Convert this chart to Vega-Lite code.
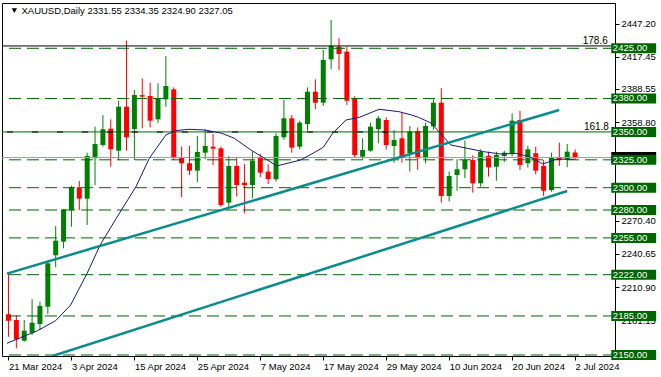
{
  "$schema": "https://vega.github.io/schema/vega-lite/v6.json",
  "width": 613,
  "height": 353,
  "autosize": {"type": "none"},
  "padding": {"left": 2, "top": 3, "right": 46, "bottom": 21},
  "background": "white",
  "config": {"view": {"stroke": "black", "strokeWidth": 1}, "font": "Liberation Sans"},
  "datasets": {
    "candles": [
      {"idx": 0, "o": 2186.6, "h": 2223.3, "l": 2166.4, "c": 2180.6},
      {"idx": 1, "o": 2181.4, "h": 2185.9, "l": 2156.0, "c": 2164.0},
      {"idx": 2, "o": 2162.8, "h": 2181.4, "l": 2162.0, "c": 2171.8},
      {"idx": 3, "o": 2170.0, "h": 2200.0, "l": 2168.0, "c": 2179.0},
      {"idx": 4, "o": 2177.8, "h": 2197.8, "l": 2172.4, "c": 2194.0},
      {"idx": 5, "o": 2193.3, "h": 2234.6, "l": 2186.8, "c": 2232.2},
      {"idx": 6, "o": 2239.4, "h": 2265.7, "l": 2228.6, "c": 2252.5},
      {"idx": 7, "o": 2251.6, "h": 2281.0, "l": 2245.7, "c": 2280.6},
      {"idx": 8, "o": 2280.0, "h": 2301.8, "l": 2265.0, "c": 2300.4},
      {"idx": 9, "o": 2300.4, "h": 2306.0, "l": 2280.0, "c": 2290.2},
      {"idx": 10, "o": 2290.2, "h": 2331.4, "l": 2266.6, "c": 2328.4},
      {"idx": 11, "o": 2326.4, "h": 2354.7, "l": 2302.4, "c": 2339.2},
      {"idx": 12, "o": 2338.3, "h": 2365.0, "l": 2336.8, "c": 2352.4},
      {"idx": 13, "o": 2352.9, "h": 2361.3, "l": 2318.8, "c": 2334.4},
      {"idx": 14, "o": 2333.2, "h": 2378.0, "l": 2324.8, "c": 2372.6},
      {"idx": 15, "o": 2372.6, "h": 2431.8, "l": 2333.2, "c": 2345.2},
      {"idx": 16, "o": 2352.6, "h": 2387.6, "l": 2324.8, "c": 2383.1},
      {"idx": 17, "o": 2383.0, "h": 2398.0, "l": 2353.3, "c": 2381.6},
      {"idx": 18, "o": 2382.2, "h": 2394.2, "l": 2354.0, "c": 2360.1},
      {"idx": 19, "o": 2361.3, "h": 2393.6, "l": 2358.0, "c": 2380.2},
      {"idx": 20, "o": 2379.2, "h": 2418.1, "l": 2372.6, "c": 2391.2},
      {"idx": 21, "o": 2388.2, "h": 2390.0, "l": 2324.8, "c": 2327.3},
      {"idx": 22, "o": 2327.3, "h": 2336.8, "l": 2291.4, "c": 2321.9},
      {"idx": 23, "o": 2321.9, "h": 2337.4, "l": 2311.4, "c": 2315.3},
      {"idx": 24, "o": 2315.3, "h": 2346.4, "l": 2305.0, "c": 2332.0},
      {"idx": 25, "o": 2331.4, "h": 2352.4, "l": 2325.5, "c": 2337.4},
      {"idx": 26, "o": 2336.8, "h": 2348.2, "l": 2320.4, "c": 2335.0},
      {"idx": 27, "o": 2335.3, "h": 2336.8, "l": 2283.0, "c": 2284.5},
      {"idx": 28, "o": 2286.6, "h": 2328.4, "l": 2281.5, "c": 2319.5},
      {"idx": 29, "o": 2319.5, "h": 2327.3, "l": 2292.0, "c": 2302.4},
      {"idx": 30, "o": 2304.5, "h": 2321.3, "l": 2277.0, "c": 2302.2},
      {"idx": 31, "o": 2302.4, "h": 2332.3, "l": 2290.5, "c": 2324.2},
      {"idx": 32, "o": 2327.3, "h": 2330.2, "l": 2309.3, "c": 2313.5},
      {"idx": 33, "o": 2314.4, "h": 2321.0, "l": 2303.3, "c": 2307.8},
      {"idx": 34, "o": 2307.6, "h": 2348.8, "l": 2305.4, "c": 2346.4},
      {"idx": 35, "o": 2345.2, "h": 2378.6, "l": 2343.0, "c": 2362.2},
      {"idx": 36, "o": 2362.2, "h": 2365.2, "l": 2331.4, "c": 2335.9},
      {"idx": 37, "o": 2336.8, "h": 2360.1, "l": 2334.4, "c": 2358.3},
      {"idx": 38, "o": 2357.1, "h": 2390.0, "l": 2351.1, "c": 2386.1},
      {"idx": 39, "o": 2386.1, "h": 2397.2, "l": 2370.3, "c": 2376.2},
      {"idx": 40, "o": 2376.2, "h": 2423.5, "l": 2373.3, "c": 2414.5},
      {"idx": 41, "o": 2415.1, "h": 2450.4, "l": 2406.2, "c": 2427.0},
      {"idx": 42, "o": 2426.4, "h": 2434.0, "l": 2405.5, "c": 2419.9},
      {"idx": 43, "o": 2422.0, "h": 2426.4, "l": 2374.2, "c": 2378.0},
      {"idx": 44, "o": 2380.2, "h": 2382.0, "l": 2327.0, "c": 2329.3},
      {"idx": 45, "o": 2327.8, "h": 2344.3, "l": 2325.5, "c": 2333.8},
      {"idx": 46, "o": 2333.2, "h": 2358.3, "l": 2332.3, "c": 2354.7},
      {"idx": 47, "o": 2352.4, "h": 2364.3, "l": 2339.8, "c": 2362.2},
      {"idx": 48, "o": 2360.7, "h": 2363.1, "l": 2334.4, "c": 2338.3},
      {"idx": 49, "o": 2337.4, "h": 2351.7, "l": 2322.4, "c": 2342.8},
      {"idx": 50, "o": 2344.3, "h": 2367.2, "l": 2322.4, "c": 2327.3},
      {"idx": 51, "o": 2330.9, "h": 2355.3, "l": 2314.4, "c": 2350.3},
      {"idx": 52, "o": 2350.8, "h": 2354.0, "l": 2316.0, "c": 2326.4},
      {"idx": 53, "o": 2326.4, "h": 2358.3, "l": 2322.0, "c": 2355.3},
      {"idx": 54, "o": 2355.0, "h": 2379.2, "l": 2352.0, "c": 2376.2},
      {"idx": 55, "o": 2376.2, "h": 2389.1, "l": 2286.6, "c": 2292.6},
      {"idx": 56, "o": 2292.6, "h": 2314.4, "l": 2287.5, "c": 2310.5},
      {"idx": 57, "o": 2311.4, "h": 2325.5, "l": 2297.3, "c": 2316.5},
      {"idx": 58, "o": 2316.5, "h": 2342.2, "l": 2308.5, "c": 2324.8},
      {"idx": 59, "o": 2324.8, "h": 2329.0, "l": 2295.5, "c": 2303.9},
      {"idx": 60, "o": 2303.9, "h": 2334.4, "l": 2300.9, "c": 2332.3},
      {"idx": 61, "o": 2328.4, "h": 2332.3, "l": 2310.0, "c": 2318.3},
      {"idx": 62, "o": 2318.8, "h": 2332.3, "l": 2306.3, "c": 2329.3},
      {"idx": 63, "o": 2328.4, "h": 2333.0, "l": 2323.0, "c": 2331.4},
      {"idx": 64, "o": 2330.9, "h": 2366.7, "l": 2328.0, "c": 2360.1},
      {"idx": 65, "o": 2360.7, "h": 2369.0, "l": 2315.9, "c": 2320.4},
      {"idx": 66, "o": 2321.9, "h": 2337.5, "l": 2318.0, "c": 2334.4},
      {"idx": 67, "o": 2330.9, "h": 2336.8, "l": 2312.0, "c": 2315.3},
      {"idx": 68, "o": 2319.5, "h": 2324.8, "l": 2292.6, "c": 2297.3},
      {"idx": 69, "o": 2297.9, "h": 2331.4, "l": 2296.4, "c": 2327.3},
      {"idx": 70, "o": 2327.3, "h": 2340.4, "l": 2319.5, "c": 2325.5},
      {"idx": 71, "o": 2325.5, "h": 2339.2, "l": 2318.3, "c": 2332.3},
      {"idx": 72, "o": 2331.55, "h": 2334.35, "l": 2324.9, "c": 2327.05}
    ],
    "ma": [
      {"idx": -0.19, "v": 2160.5}, {"idx": 3.7, "v": 2171.8}, {"idx": 6.0, "v": 2180.8}, {"idx": 7.9, "v": 2194.8},
      {"idx": 10.0, "v": 2223.3}, {"idx": 11.65, "v": 2248.6}, {"idx": 13.7, "v": 2272.6}, {"idx": 16.2, "v": 2300.9},
      {"idx": 17.9, "v": 2326.4}, {"idx": 20.0, "v": 2347.3}, {"idx": 21.2, "v": 2351.1}, {"idx": 22.9, "v": 2352.4},
      {"idx": 25.0, "v": 2351.7}, {"idx": 27.1, "v": 2348.8}, {"idx": 28.7, "v": 2344.3}, {"idx": 30.8, "v": 2333.8},
      {"idx": 32.9, "v": 2324.8}, {"idx": 34.1, "v": 2319.5}, {"idx": 35.4, "v": 2321.8}, {"idx": 37.1, "v": 2324.8},
      {"idx": 38.7, "v": 2330.9}, {"idx": 40.0, "v": 2336.2}, {"idx": 41.2, "v": 2348.8}, {"idx": 42.9, "v": 2360.7},
      {"idx": 44.6, "v": 2363.1}, {"idx": 47.1, "v": 2370.3}, {"idx": 49.6, "v": 2368.2}, {"idx": 51.2, "v": 2365.2},
      {"idx": 52.1, "v": 2363.1}, {"idx": 53.7, "v": 2358.0}, {"idx": 56.2, "v": 2338.3}, {"idx": 58.3, "v": 2335.3},
      {"idx": 60.4, "v": 2332.3}, {"idx": 62.5, "v": 2330.2}, {"idx": 64.6, "v": 2330.8}, {"idx": 66.2, "v": 2327.8},
      {"idx": 67.9, "v": 2321.3}, {"idx": 69.6, "v": 2325.5}, {"idx": 71.9, "v": 2325.5}
    ],
    "levels": [
      {"p": 2425, "dash": 1}, {"p": 2380, "dash": 1}, {"p": 2350, "dash": 0}, {"p": 2325, "dash": 1},
      {"p": 2300, "dash": 1}, {"p": 2280, "dash": 1}, {"p": 2255, "dash": 1}, {"p": 2222, "dash": 1},
      {"p": 2185, "dash": 1}, {"p": 2150, "dash": 1}
    ],
    "trend": [
      {"line": "upper", "idx": -0.19, "p": 2223.0}, {"line": "upper", "idx": 69.98, "p": 2369.7},
      {"line": "lower", "idx": 5.6, "p": 2149.1}, {"line": "lower", "idx": 71.0, "p": 2297.0}
    ],
    "fib": [
      {"p": 2427.1, "t": "178.6", "lx": 76.15},
      {"p": 2349.9, "t": "161.8", "lx": 76.3}
    ]
  },
  "layer": [
    {
      "data": {"name": "candles"},
      "mark": {"type": "rule", "strokeWidth": 1},
      "encoding": {
        "x": {"field": "idx", "type": "quantitative",
          "scale": {"domain": [-0.1875, 76.4375], "nice": false, "zero": false},
          "axis": {"values": [0, 8, 16, 24, 32, 40, 48, 56, 64, 72],
            "labelExpr": "['21 Mar 2024','3 Apr 2024','15 Apr 2024','25 Apr 2024','7 May 2024','17 May 2024','29 May 2024','10 Jun 2024','20 Jun 2024','2 Jul 2024'][round(datum.value/8)]",
            "labelAlign": "left", "labelDx": -1, "labelFont": "Liberation Sans", "labelFontSize": 9.5, "labelColor": "black",
            "tickColor": "black", "tickSize": 4, "labelPadding": 1, "domain": false, "grid": false, "title": null,
            "labelOverlap": false, "labelFlush": false}},
        "y": {"field": "l", "type": "quantitative",
          "scale": {"domain": [2149.1, 2465.6], "nice": false, "zero": false},
          "axis": {"orient": "right", "values": [2447.2, 2417.45, 2388.55, 2358.8, 2270.4, 2240.65, 2210.9, 2181.15],
            "format": ".2f", "labelFont": "Liberation Sans", "labelFontSize": 9.5, "labelColor": "black",
            "tickColor": "black", "tickSize": 4, "labelPadding": 2, "domain": false, "grid": false, "title": null,
            "labelOverlap": false, "labelFlush": false}},
        "y2": {"field": "h"},
        "color": {"condition": {"test": "datum.c >= datum.o", "value": "#008000"}, "value": "#ff0000"}
      }
    },
    {
      "data": {"name": "candles"},
      "mark": {"type": "bar", "width": 5},
      "encoding": {
        "x": {"field": "idx", "type": "quantitative"},
        "y": {"field": "o", "type": "quantitative"},
        "y2": {"field": "c"},
        "color": {"condition": {"test": "datum.c >= datum.o", "value": "#008000"}, "value": "#ff0000"}
      }
    },
    {
      "data": {"name": "levels"},
      "transform": [{"filter": "datum.dash == 1"}],
      "mark": {"type": "rule", "color": "#006400", "strokeWidth": 1, "strokeDash": [12, 6]},
      "encoding": {"y": {"field": "p", "type": "quantitative"}}
    },
    {
      "data": {"name": "levels"},
      "transform": [{"filter": "datum.dash == 0"}],
      "mark": {"type": "rule", "color": "#006400", "strokeWidth": 1},
      "encoding": {"y": {"field": "p", "type": "quantitative"}}
    },
    {
      "data": {"name": "fib"},
      "transform": [{"filter": "datum.t == '178.6'"}],
      "mark": {"type": "rule", "color": "black", "strokeWidth": 1},
      "encoding": {"y": {"field": "p", "type": "quantitative"}}
    },
    {
      "data": {"name": "fib"},
      "transform": [{"filter": "datum.t == '161.8'"}],
      "mark": {"type": "rule", "color": "black", "strokeWidth": 1, "strokeDash": [6, 19]},
      "encoding": {
        "y": {"field": "p", "type": "quantitative"},
        "x": {"datum": -0.19, "type": "quantitative"},
        "x2": {"datum": 50}
      }
    },
    {
      "data": {"values": [{"p": 2327.05}]},
      "mark": {"type": "rule", "color": "#a0a0a0", "strokeWidth": 1},
      "encoding": {"y": {"field": "p", "type": "quantitative"}}
    },
    {
      "data": {"name": "ma"},
      "mark": {"type": "line", "color": "#191970", "strokeWidth": 1, "clip": true},
      "encoding": {
        "x": {"field": "idx", "type": "quantitative"},
        "y": {"field": "v", "type": "quantitative"}
      }
    },
    {
      "data": {"name": "trend"},
      "mark": {"type": "line", "color": "#0a8c8c", "strokeWidth": 2.5, "clip": true},
      "encoding": {
        "x": {"field": "idx", "type": "quantitative"},
        "y": {"field": "p", "type": "quantitative"},
        "detail": {"field": "line"}
      }
    },
    {
      "data": {"name": "fib"},
      "mark": {"type": "text", "align": "right", "baseline": "alphabetic", "dy": -2, "font": "Liberation Sans", "fontSize": 10, "color": "black"},
      "encoding": {
        "x": {"field": "lx", "type": "quantitative"},
        "y": {"field": "p", "type": "quantitative"},
        "text": {"field": "t"}
      }
    },
    {
      "data": {"values": [{"t": "XAUUSD,Daily 2331.55 2334.35 2324.90 2327.05"}]},
      "mark": {"type": "text", "align": "left", "baseline": "middle", "font": "Liberation Sans", "fontSize": 9.5, "color": "black"},
      "encoding": {
        "x": {"datum": 1.65, "type": "quantitative"},
        "y": {"datum": 2458.5, "type": "quantitative"},
        "text": {"field": "t"}
      }
    },
    {
      "data": {"values": [{"s": "v"}]},
      "mark": {"type": "point", "shape": "triangle-down", "filled": true, "color": "black", "size": 28, "opacity": 1},
      "encoding": {
        "x": {"datum": 0.75, "type": "quantitative"},
        "y": {"datum": 2458.8, "type": "quantitative"}
      }
    },
    {
      "data": {"values": [{"p": 2327.05}]},
      "mark": {"type": "rule", "color": "black", "strokeWidth": 11, "strokeCap": "butt", "clip": false},
      "encoding": {
        "y": {"field": "p", "type": "quantitative"},
        "x": {"datum": 76.6, "type": "quantitative"},
        "x2": {"datum": 82.3}
      }
    },
    {
      "data": {"name": "levels"},
      "mark": {"type": "rule", "color": "#006400", "strokeWidth": 10, "strokeCap": "butt", "clip": false},
      "encoding": {
        "y": {"field": "p", "type": "quantitative"},
        "x": {"datum": 76.6, "type": "quantitative"},
        "x2": {"datum": 82.3}
      }
    },
    {
      "data": {"name": "levels"},
      "mark": {"type": "text", "align": "left", "baseline": "middle", "font": "Liberation Sans", "fontSize": 9.5, "color": "white", "clip": false},
      "encoding": {
        "y": {"field": "p", "type": "quantitative"},
        "x": {"datum": 76.8, "type": "quantitative"},
        "text": {"field": "p", "type": "quantitative", "format": ".2f"}
      }
    }
  ]
}
